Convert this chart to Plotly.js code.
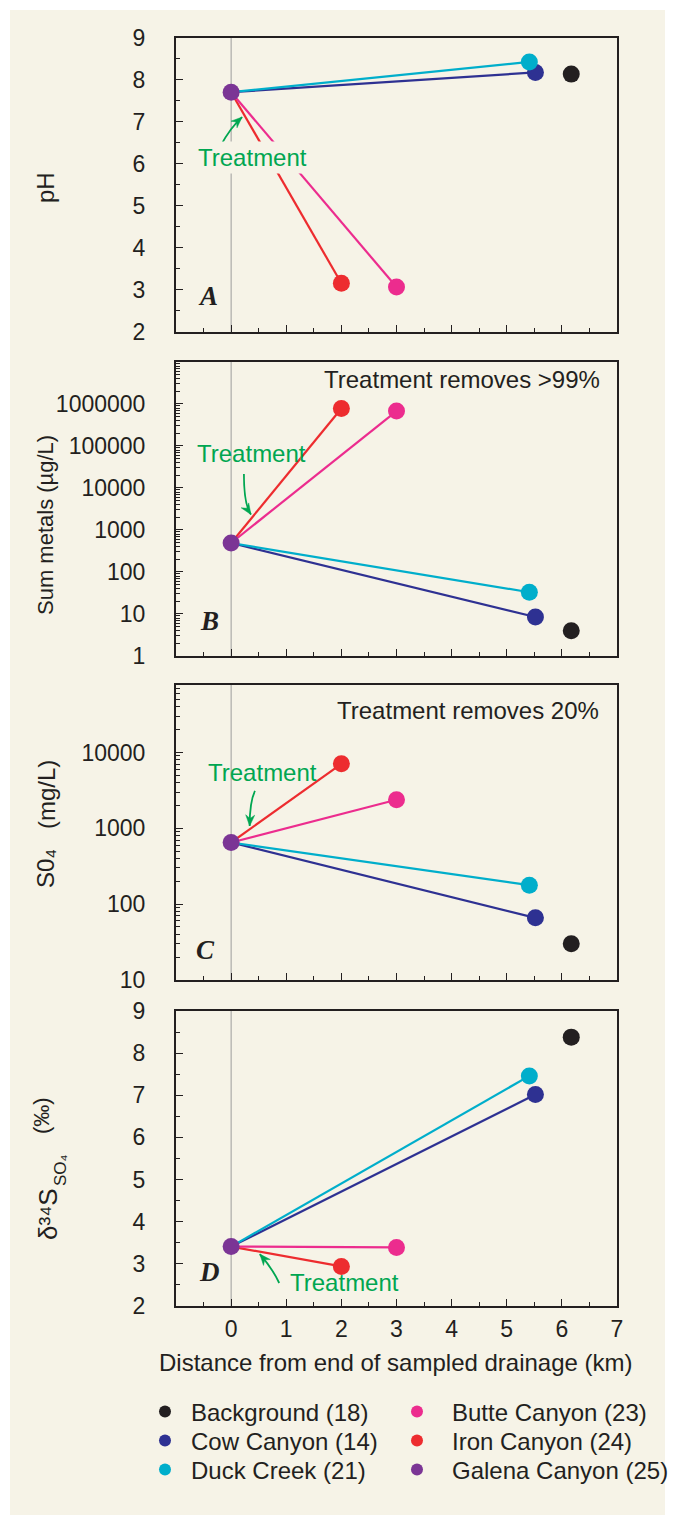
<!DOCTYPE html>
<html><head><meta charset="utf-8">
<script src="https://cdn.plot.ly/plotly-3.0.1.min.js"></script>
<style>html,body{margin:0;padding:0;background:#fff;} #chart{width:675px;height:1515px;}</style>
</head><body><div id="chart"></div>
<script>
// ---- data ----
const sites = ['Background (18)','Cow Canyon (14)','Duck Creek (21)','Butte Canyon (23)','Iron Canyon (24)','Galena Canyon (25)'];
const siteColors = ['#231F20','#2E3192','#00AECB','#EC2C8E','#ED2C2F','#7B3595'];
const distanceKm = [6.17, 5.52, 5.41, 3.0, 2.0, 0.0];
const pH = [8.14, 8.18, 8.43, 3.07, 3.16, 7.71];
const sumMetals = [4.0, 8.5, 33, 680000, 780000, 490];
const sulfate = [30, 66, 178, 2380, 7100, 650];
const delta34S = [8.38, 7.02, 7.46, 3.39, 2.94, 3.41];
const xTickVals = [0,1,2,3,4,5,6,7];
const pHTicks = [2,3,4,5,6,7,8,9];
const metalsTicks = [1,10,100,1000,10000,100000,1000000];
const sulfateTicks = [10,100,1000,10000];
const deltaTicks = [2,3,4,5,6,7,8,9];
const panelLetters = ['A','B','C','D'];
const sourceIndex = 5;            // Galena Canyon = treated outflow at x = 0
const connectedSites = [4,3,1,2]; // lines from treatment point to these sites

// ---- style ----
const FONT = 'Liberation Sans, Arial, Helvetica, sans-serif';
const INK = '#231F20';
const GREEN = '#00A651';
const CREAM = '#F6F3E7';
const xDomain = [176/675, 617/675];
const yDomains = [[0.78086,0.97492],[0.56700,0.76106],[0.35314,0.54785],[0.13795,0.33267]];
const PLOT_W = 441, PLOT_H = 294;

const panels = [pH, sumMetals, sulfate, delta34S];
const traces = [];
panels.forEach((vals,p)=>{
  const xa = p===0?'x':'x'+(p+1), ya = p===0?'y':'y'+(p+1);
  connectedSites.forEach(i=>{
    traces.push({type:'scatter', mode:'lines', x:[distanceKm[sourceIndex], distanceKm[i]], y:[vals[sourceIndex], vals[i]],
      xaxis:xa, yaxis:ya, line:{color:siteColors[i], width:2.2}, showlegend:false, hoverinfo:'skip'});
  });
  [0,1,2,3,4,5].forEach(i=>{
    traces.push({type:'scatter', mode:'markers', name:sites[i], x:[distanceKm[i]], y:[vals[i]],
      xaxis:xa, yaxis:ya, marker:{color:siteColors[i], size:17}, showlegend:p===3,
      legend: i===0?'legend':'legend'+(i+1)});
  });
});

function xAxis(p){
  return {domain:xDomain, range:[-1,7], anchor:p===0?'y':'y'+(p+1), showline:true, mirror:true, linecolor:INK, linewidth:2,
    ticks:'inside', ticklen:7, tickwidth:1, tickcolor:INK, tickmode:'array', tickvals:xTickVals,
    showticklabels:p===3, tickfont:{size:23,color:INK,family:FONT}, ticklabelstandoff:1,
    minor:{ticks:'inside', ticklen:4, tickwidth:1, tickcolor:INK, tickmode:'linear', tick0:-1, dtick:0.5},
    showgrid:false, zeroline:false, fixedrange:true};
}
function yAxis(p, opts){
  return Object.assign({domain:yDomains[p], anchor:p===0?'x':'x'+(p+1), showline:true, mirror:true, linecolor:INK, linewidth:2,
    ticks:'inside', ticklen:7, tickwidth:1, tickcolor:INK, tickmode:'array',
    tickfont:{size:23,color:INK,family:FONT}, ticklabelstandoff:24,
    showgrid:false, zeroline:false, fixedrange:true}, opts);
}
const linMinor = {ticks:'inside', ticklen:4, tickwidth:1, tickcolor:INK, tickmode:'linear', tick0:2, dtick:0.5};
const logMinor = {ticks:'inside', ticklen:4, tickwidth:1, tickcolor:INK, dtick:'D1'};

const shapes = [{type:'rect', xref:'paper', yref:'paper', x0:10/675, x1:665/675, y0:0, y1:1-10/1515, fillcolor:CREAM, line:{width:0}, layer:'below'}];
for(let p=0;p<4;p++){
  const xa = p===0?'x':'x'+(p+1), ya = p===0?'y':'y'+(p+1);
  shapes.push({type:'line', xref:xa, yref:ya+' domain', x0:0, x1:0, y0:0, y1:1, line:{color:'#9D9D9D', width:1}, layer:'below'});
}
// curved "Treatment" arrows: start, control, tip in axis-domain units; head direction in px (y down)
const arrows = [
  {s:[0.101,0.633], c:[0.124,0.697], t:[0.150,0.731], dir:[0.74,-0.67]},
  {s:[0.154,0.619], c:[0.154,0.514], t:[0.170,0.481], dir:[0.55,0.84]},
  {s:[0.179,0.641], c:[0.167,0.603], t:[0.167,0.522], dir:[-0.05,1]},
  {s:[0.234,0.078], c:[0.218,0.129], t:[0.190,0.176], dir:[-0.65,-0.76]}
];
const treatText = [[0.173,0.592,true],[0.172,0.690,false],[0.197,0.702,false],[0.381,0.078,false]];
const letterPos = [[0.073,0.122],[0.077,0.119],[0.068,0.102],[0.077,0.115]];
const annotations = [];
function headPath(t, dir){
  const L = 11, W = 4.5, N = 7.5;
  const n = Math.hypot(dir[0],dir[1]); const ux = dir[0]/n, uy = dir[1]/n; const px = -uy, py = ux;
  const toD = (dx,dy)=>[t[0]+dx/PLOT_W, t[1]-dy/PLOT_H];
  const b1 = toD(-L*ux + W*px, -L*uy + W*py), b2 = toD(-L*ux - W*px, -L*uy - W*py), nb = toD(-N*ux, -N*uy);
  return `M ${t[0]},${t[1]} L ${b1[0]},${b1[1]} L ${nb[0]},${nb[1]} L ${b2[0]},${b2[1]} Z`;
}
arrows.forEach((a,p)=>{
  const xa = p===0?'x':'x'+(p+1), ya = p===0?'y':'y'+(p+1);
  shapes.push({type:'path', xref:xa+' domain', yref:ya+' domain',
    path:`M ${a.s[0]},${a.s[1]} Q ${a.c[0]},${a.c[1]} ${a.t[0]},${a.t[1]}`, line:{color:GREEN, width:1.8}});
  shapes.push({type:'path', xref:xa+' domain', yref:ya+' domain', path:headPath(a.t, a.dir),
    fillcolor:GREEN, line:{color:GREEN, width:0.5}});
  const tt = treatText[p];
  annotations.push({xref:xa+' domain', yref:ya+' domain', x:tt[0], y:tt[1], xanchor:'center', yanchor:'middle', text:'Treatment',
    showarrow:false, font:{size:24,color:GREEN,family:FONT}, bgcolor: tt[2]?CREAM:'rgba(0,0,0,0)', borderpad:2});
  annotations.push({xref:xa+' domain', yref:ya+' domain', x:letterPos[p][0], y:letterPos[p][1], xanchor:'center', yanchor:'middle',
    text:panelLetters[p], showarrow:false, font:{size:27,color:INK,family:'Liberation Serif, Times New Roman, serif', weight:'bold', style:'italic'}});
});
annotations.push({xref:'x2 domain', yref:'y2 domain', x:0.966, y:0.942, xanchor:'right', yanchor:'middle', text:'Treatment removes >99%', showarrow:false, font:{size:24,color:INK,family:FONT}});
annotations.push({xref:'x3 domain', yref:'y3 domain', x:0.964, y:0.912, xanchor:'right', yanchor:'middle', text:'Treatment removes 20%', showarrow:false, font:{size:24,color:INK,family:FONT}});
// axis titles (rotated); pixel centres
const yTitles = [
  {text:'pH', x:45, y:188, size:24},
  {text:'Sum metals (µg/L)', x:45, y:525, size:22},
  {text:'S0₄', x:45, y:869, size:24},
  {text:'(mg/L)', x:46, y:795, size:24},
  {text:'δ³⁴S', x:48, y:1214, size:26},
  {text:'SO₄', x:60, y:1170, size:17},
  {text:'(‰)', x:41, y:1116, size:22}
];
yTitles.forEach(t=>annotations.push({xref:'paper', yref:'paper', x:t.x/675, y:1-t.y/1515, xanchor:'center', yanchor:'middle',
  text:t.text, textangle:-90, showarrow:false, font:{size:t.size,color:INK,family:FONT}}));
annotations.push({xref:'paper', yref:'paper', x:396/675, y:1-1362/1515, xanchor:'center', yanchor:'middle',
  text:'Distance from end of sampled drainage (km)', showarrow:false, font:{size:24,color:INK,family:FONT}});

function leg(x, y, w){
  return {x:x/675, y:1-y/1515, xanchor:'left', yanchor:'middle', xref:'paper', yref:'paper', bgcolor:'rgba(0,0,0,0)', borderwidth:0,
    font:{size:24,color:INK,family:FONT}, itemsizing:'constant', itemwidth:w, itemclick:false, itemdoubleclick:false};
}

const layout = {
  width:675, height:1515, margin:{l:0,r:0,t:0,b:0,pad:0},
  paper_bgcolor:'#FFFFFF', plot_bgcolor:'rgba(0,0,0,0)',
  font:{family:FONT, color:INK, size:24}, showlegend:true, hovermode:false,
  xaxis:xAxis(0), xaxis2:xAxis(1), xaxis3:xAxis(2), xaxis4:xAxis(3),
  yaxis:yAxis(0,{range:[2,9], tickvals:pHTicks, minor:linMinor}),
  yaxis2:yAxis(1,{type:'log', range:[0,7], tickvals:metalsTicks, ticktext:metalsTicks.map(String), minor:logMinor}),
  yaxis3:yAxis(2,{type:'log', range:[1,4.89], tickvals:sulfateTicks, ticktext:sulfateTicks.map(String), minor:logMinor}),
  yaxis4:yAxis(3,{range:[2,9], tickvals:deltaTicks, minor:linMinor}),
  legend:leg(139,1412,42), legend2:leg(139,1441,42), legend3:leg(139,1470,42),
  legend4:leg(382,1412,60), legend5:leg(382,1441,60), legend6:leg(382,1470,60),
  shapes:shapes, annotations:annotations
};
Plotly.newPlot('chart', traces, layout, {staticPlot:true, displayModeBar:false});
</script></body></html>
